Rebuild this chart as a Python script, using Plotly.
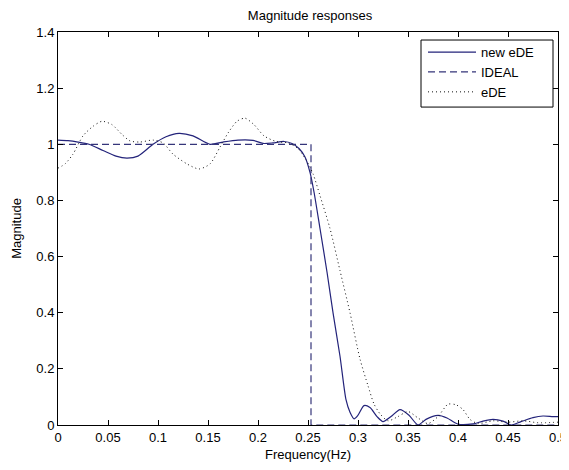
import plotly.graph_objects as go

# ---- data ----
new_ede_freq = [0, 0.01, 0.02, 0.031, 0.045, 0.058, 0.069, 0.08, 0.095, 0.108, 0.121, 0.135,
                0.152, 0.165, 0.18, 0.195, 0.205, 0.215, 0.226, 0.234, 0.241, 0.247, 0.252,
                0.256, 0.262, 0.269, 0.275, 0.282, 0.288, 0.292, 0.296, 0.3, 0.306, 0.312,
                0.319, 0.325, 0.333, 0.342, 0.351, 0.36, 0.368, 0.38, 0.389, 0.4, 0.415,
                0.425, 0.435, 0.445, 0.453, 0.463, 0.475, 0.485, 0.495, 0.5]
new_ede_mag = [1.015, 1.013, 1.008, 1.0, 0.978, 0.958, 0.951, 0.958, 1.0, 1.027, 1.039, 1.03,
               1.0, 1.008, 1.015, 1.014, 1.003, 1.005, 1.01, 1.003, 0.985, 0.955, 0.9,
               0.83, 0.70, 0.545, 0.40, 0.245, 0.09, 0.045, 0.022, 0.035, 0.069, 0.062,
               0.03, 0.012, 0.03, 0.055, 0.035, 0.0, 0.02, 0.034, 0.025, 0.003, 0.004,
               0.014, 0.02, 0.014, 0.0, 0.012, 0.026, 0.032, 0.03, 0.03]

ideal_freq = [0, 0.253, 0.253, 0.5]
ideal_mag = [1, 1, 0, 0]

ede_freq = [0, 0.007, 0.015, 0.025, 0.035, 0.044, 0.054, 0.064, 0.072, 0.082, 0.095, 0.105,
            0.115, 0.129, 0.141, 0.152, 0.162, 0.17, 0.179, 0.187, 0.196, 0.206, 0.218,
            0.23, 0.24, 0.248, 0.255, 0.262, 0.272, 0.282, 0.292, 0.302, 0.31, 0.316,
            0.322, 0.33, 0.34, 0.35, 0.36, 0.37, 0.38, 0.39, 0.398, 0.405, 0.412, 0.42,
            0.435, 0.45, 0.465, 0.48, 0.5]
ede_mag = [0.915, 0.93, 0.965, 1.03, 1.064, 1.082, 1.07, 1.035, 1.012, 1.008, 1.015, 1.005,
           0.965, 0.93, 0.912, 0.93, 0.99, 1.04, 1.082, 1.093, 1.07, 1.03, 1.01,
           1.005, 0.985, 0.945, 0.895, 0.817, 0.70, 0.55, 0.40, 0.235, 0.14, 0.075,
           0.04, 0.015, 0.03, 0.048, 0.025, 0.005, 0.03, 0.074, 0.072, 0.055, 0.02, 0.005,
           0.015, 0.01, 0.015, 0.008, 0.01]

x_ticks = [0, 0.05, 0.1, 0.15, 0.2, 0.25, 0.3, 0.35, 0.4, 0.45, 0.5]
x_tick_labels = ["0", "0.05", "0.1", "0.15", "0.2", "0.25", "0.3", "0.35", "0.4", "0.45", "0.5"]
y_ticks = [0, 0.2, 0.4, 0.6, 0.8, 1.0, 1.2, 1.4]
y_tick_labels = ["0", "0.2", "0.4", "0.6", "0.8", "1", "1.2", "1.4"]

FONT = "Liberation Sans, Arial, sans-serif"

fig = go.Figure()
fig.add_trace(go.Scatter(x=new_ede_freq, y=new_ede_mag, mode="lines", name="new eDE",
                         line=dict(color="#23237a", width=1.2, shape="spline", smoothing=0.7)))
fig.add_trace(go.Scatter(x=ideal_freq, y=ideal_mag, mode="lines", name="IDEAL",
                         line=dict(color="#35357a", width=1.2, dash="7px,4px")))
fig.add_trace(go.Scatter(x=ede_freq, y=ede_mag, mode="lines", name="eDE",
                         line=dict(color="#111111", width=1, dash="1px,3px", shape="spline", smoothing=0.7)))

axis_common = dict(showgrid=False, zeroline=False, showline=True, linecolor="black", linewidth=1,
                   mirror="ticks", ticks="inside", ticklen=5, tickcolor="black", automargin=False,
                   tickfont=dict(family=FONT, size=13, color="black"))

# legend frame (drawn as a shape so its size matches the reference box)
fig.add_shape(type="rect", xref="paper", yref="paper", x0=0.726, x1=0.99, y0=0.809, y1=0.9796,
              line=dict(color="black", width=1), fillcolor="white", layer="above")

# page has an 8px body margin, so the figure is sized/placed to compensate
fig.update_layout(
    width=561, height=462,
    margin=dict(l=50, r=11, t=24, b=45, autoexpand=False),
    paper_bgcolor="white", plot_bgcolor="white",
    font=dict(family=FONT, size=13, color="black"),
    title=dict(text="Magnitude responses", xref="paper", x=0.504, xanchor="center",
               yref="container", y=0.984, yanchor="middle", automargin=False,
               font=dict(family=FONT, size=13, color="black")),
    xaxis=dict(range=[0, 0.5], tickvals=x_ticks, ticktext=x_tick_labels,
               title=dict(text="Frequency(Hz)", standoff=6, font=dict(family=FONT, size=13)),
               **axis_common),
    yaxis=dict(range=[0, 1.4], tickvals=y_ticks, ticktext=y_tick_labels,
               title=dict(text="Magnitude", standoff=11, font=dict(family=FONT, size=13)),
               **axis_common),
    showlegend=True,
    legend=dict(x=0.73, y=0.987, xanchor="left", yanchor="top", bgcolor="rgba(0,0,0,0)",
                borderwidth=0, font=dict(family=FONT, size=13),
                tracegroupgap=0, itemwidth=48),
)

fig.write_html("out.html")
